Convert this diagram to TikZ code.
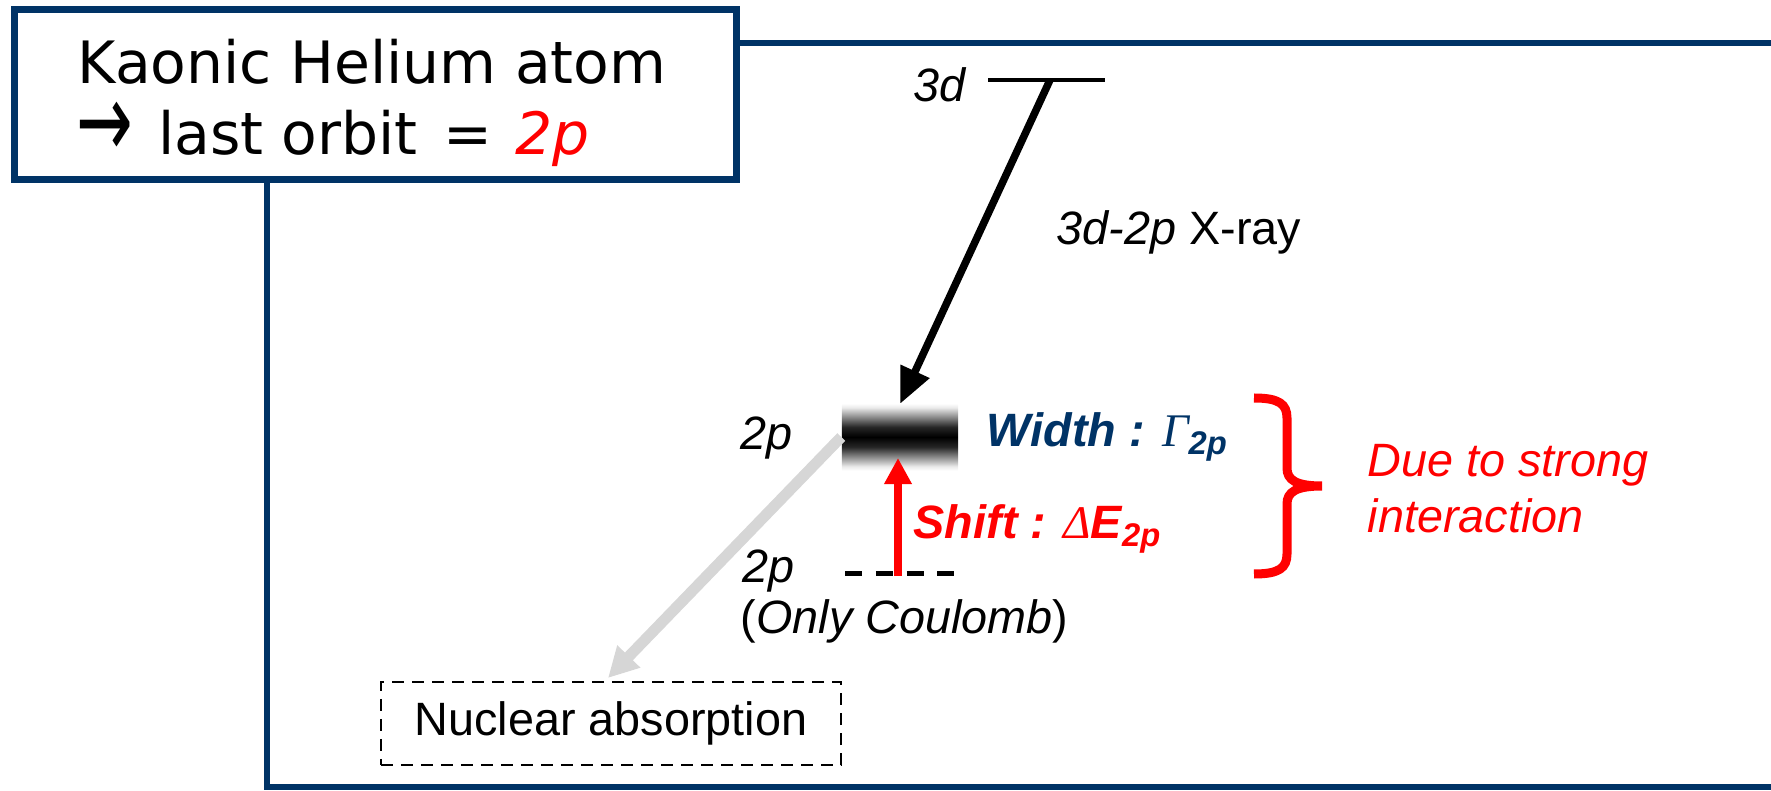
\documentclass[tikz,border=0pt]{standalone}
\usepackage{fontspec}
\setmainfont{Liberation Sans}
\newfontfamily\titlefont{DejaVu Sans}
\newfontfamily\greekfont{Liberation Serif}
\usetikzlibrary{arrows.meta}
\definecolor{navy}{RGB}{0,51,102}
\definecolor{kred}{RGB}{255,0,0}
\pgfdeclareverticalshading{lineband}{100bp}{color(0bp)=(white); color(25bp)=(white);
    color(28bp)=(black!8); color(35bp)=(black!45); color(42.5bp)=(black!85); color(50bp)=(black);
    color(57.5bp)=(black!85); color(65bp)=(black!45); color(72bp)=(black!8); color(75bp)=(white); color(100bp)=(white)}

\begin{document}
\begin{tikzpicture}[x=0.01cm,y=-0.01cm,
        txt/.style={inner sep=0pt,font=\fontsize{13.3}{16}\selectfont},
        head/.style={anchor=base west,inner sep=0pt,font=\titlefont\fontsize{16.6}{20}\selectfont},
        frame/.style={draw=navy,line width=0.065cm},
        level/.style={line width=0.045cm}]
        \useasboundingbox (0,0) rectangle (1771,791);

        % outer frame and title box
        \draw[frame] (1800,43) -- (267,43) -- (267,787) -- (1800,787);
        \draw[frame,fill=white] (14.5,9.5) rectangle (736.5,179.5);
        \node[head] (title) at (77,84) {Kaonic Helium atom};
        \node[head] (orbit) at (76,155)
            {\smash{\raisebox{-0.7pt}{\scalebox{1.16}[1.8]{→}}}\hspace{7pt}last orbit\hspace{7.4pt}=\hspace{6.5pt}\textcolor{kred}{\itshape 2p}};

        % 3d level and the X-ray
        \coordinate (A) at (988,80);
        \coordinate (B) at (1105,80);
        \draw[level] (A) -- (B);
        \node[txt,anchor=east] (lvl3d) at (966,85) {\itshape 3d};
        \coordinate (X) at (1050,80);
        \coordinate (Y) at (900,404);
        \draw[line width=0.075cm,-{Triangle[length=0.36cm,width=0.3cm]}] (X) -- (Y);
        \node[txt,anchor=west] (xray) at (1056,232) {\itshape 3d-2p\upshape{} X-ray};

        % broadened 2p level
        \node[minimum width=1.16cm,minimum height=0.67cm,inner sep=0pt,shading=lineband] (band) at (900,437) {};
        \node[txt] (lvl2p) at (767,438) {\itshape 2p};
        \node[txt,anchor=west,text=navy] (width) at (986,437) {\bfseries\itshape Width : {\greekfont\mdseries Γ}\textsubscript{2p}};

        % Coulomb 2p level and the shift
        \coordinate (C) at (845,574);
        \coordinate (D) at (956,574);
        \draw[level,line width=0.05cm,dash pattern=on 0.17cm off 0.138cm] (C) -- (D);
        \coordinate (S) at (898,576);
        \coordinate (T) at (898,458);
        \draw[kred,line width=0.08cm,-{Triangle[length=0.26cm,width=0.26cm]}] (S) -- (T);
        \node[txt,anchor=west,text=kred] (shift) at (913,529) {\bfseries\itshape Shift : {\greekfont\mdseries Δ}E\textsubscript{2p}};
        \node[txt] (lvlc) at (769,571) {\itshape 2p};
        \node[txt,anchor=west] (coul) at (740,621) {(\textit{Only Coulomb})};

        % absorption
        \node[txt,draw,line width=0.025cm,dash pattern=on 0.12cm off 0.08cm,
            minimum width=4.6cm,minimum height=0.83cm] (nuc) at (611,723.5) {Nuclear absorption};
        \coordinate (N) at (608,678);
        \draw[black!16,line width=0.11cm,-{Triangle[length=0.3cm,width=0.3cm]}] (band.west) -- (N);

        % strong interaction brace
        \draw[kred,line width=0.09cm] (1254,398) .. controls (1279,398) and (1287,404) .. (1287,418) -- (1287,468)
            .. controls (1287,480) and (1296,486) .. (1322,486) .. controls (1296,486) and (1287,492) .. (1287,504)
            -- (1287,554) .. controls (1287,568) and (1279,574) .. (1254,574);
        \node[txt,anchor=west,text=kred,align=left] (due) at (1367,489) {\itshape Due to strong\\\itshape interaction};
    \end{tikzpicture}
\end{document}
